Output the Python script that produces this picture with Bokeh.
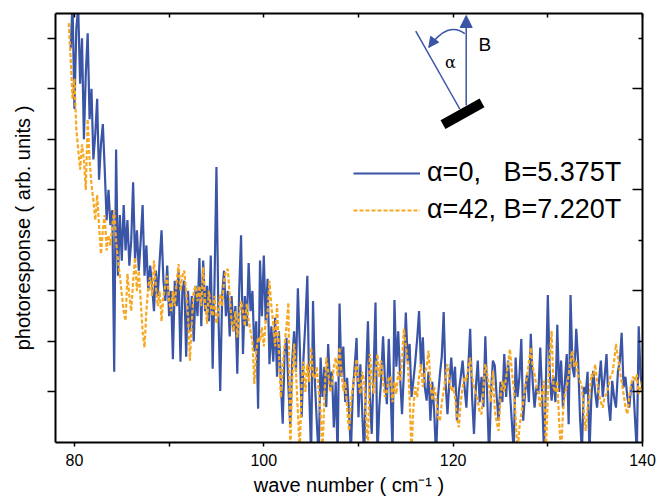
import numpy as np
from bokeh.plotting import figure
from bokeh.models import (LinearAxis, FixedTicker, Range1d, Legend, LegendItem,
                          Arrow, NormalHead)
from bokeh.core.properties import value
from bokeh.embed import file_html
from bokeh.resources import INLINE

NAN = float("nan")

# measurement grid (cm^-1)
WAVENUMBER = np.round(np.arange(79.4, 140.0001, 0.2), 1)

# alpha = 0, B = 5.375 T
RESP_A0 = [NAN,
    7.8, 8.7, 6.6, 8.2, 8.6, 7.1, 8.0, 6.0, 7.3, 8.1,
    6.4, 7.0, 5.6, 6.1, 6.8, 5.2, 5.9, 6.3, 5.4, 4.4,
    5.0, 4.3, 4.6, 1.4, 5.8, 3.3, 4.5, 3.6, 4.7, 3.8,
    4.4, 3.5, 4.0, 5.15, 3.6, 4.2, 3.4, 4.0, 4.7, 3.3,
    3.9, 3.0, 3.5, 3.1, 2.6, 3.4, 2.9, 3.6, 4.2, 3.2,
    2.8, 3.5, 2.5, 3.0, 1.65, 3.2, 2.7, 3.4, 1.6, 3.0,
    3.2, 1.7, 3.0, 2.2, 2.9, 2.0, 3.1, 2.5, 3.65, 2.3,
    3.6, 2.6, 3.1, 2.4, 3.7, 1.46, 3.2, 5.45, 2.6, 1.02,
    2.9, 3.4, 2.5, 3.0, 2.1, 2.9, 2.2, 2.7, 1.36, 3.0,
    4.1, 1.75, 2.9, 2.3, 3.55, 2.6, 3.0, 1.8, 2.4, 0.67,
    3.6, 2.5, 3.7, 2.4, 3.24, 1.55, 2.3, 1.6, 2.47, 1.3,
    2.2, 1.2, 0.37, 1.8, 2.07, 1.1, 0.3, 1.6, 2.2, 1.4,
    3.05, 1.9, 0.5, 1.7, 2.4, 3.3, 1.0, -0.3, 2.8, 1.2,
    0.4, -0.3, 1.68, 0.9, 1.5, 0.7, 1.95, 1.1, 1.4, 0.3,
    1.2, -0.3, 2.75, 1.3, 1.9, 0.8, 1.28, 0.6, -0.2, 1.0,
    1.5, 2.07, 0.5, 1.55, 0.6, -0.3, 1.3, 2.4, 0.9, 0.17,
    1.4, 2.77, -0.3, 0.7, 1.28, 2.1, 1.2, 0.76, 2.05, 1.0,
    -0.2, 2.82, 1.5, 2.2, 1.3, 0.56, 1.4, 2.57, 1.6, 1.95,
    0.9, 1.22, 1.6, 2.05, 2.6, 1.5, 2.08, 1.1, 0.83, 1.4,
    0.43, 1.2, 0.6, -0.3, 0.9, 1.35, 1.7, 2.58, 1.2, 0.56,
    1.2, 1.68, 1.09, 1.5, 0.43, 1.0, 1.3, 1.62, 1.1, 0.69,
    1.5, 2.25, 0.9, 0.17, 1.1, 1.62, 0.8, 1.3, 0.7, 2.1,
    0.9, -0.3, 1.0, 1.62, 1.52, 0.9, 0.43, 1.2, 0.8, 1.75,
    0.9, 1.62, 1.0, 0.4, -0.2, 1.68, 0.9, 1.3, 2.05, 0.43,
    1.0, 1.35, 0.8, 2.15, 1.2, 0.69, 1.1, 0.96, 1.88, 0.9,
    -0.2, 1.2, 2.92, 1.4, 0.83, 1.3, 0.8, 2.33, 1.0, 1.62,
    0.69, 1.2, 1.75, 0.36, 2.92, 1.5, 1.29, 2.25, 1.62, 0.5,
    -0.2, 1.1, 0.96, 1.4, -0.2, 0.9, 1.42, 1.0, 0.69, 1.2,
    1.62, 0.9, 1.3, 1.75, 0.8, 0.43, 1.22, 0.9, 0.69, 1.4,
    1.6, 2.17, 1.09, 1.3, 0.9, 0.69, 1.1, 1.22, 0.5, -0.2,
    2.3, 1.3, 1.08]

# alpha = 42, B = 7.220 T
RESP_A42 = [8.3,
    7.6, 6.8, 7.2, 6.2, 5.8, 5.4, 5.9, 5.6, 5.0, 6.4,
    5.6, 5.1, 4.8, 4.4, 4.9, 4.3, 3.73, 4.2, 4.5, 3.8,
    4.1, 3.9, 4.3, 4.59, 4.0, 3.6, 3.3, 2.94, 2.6, 2.41,
    3.34, 2.9, 2.6, 3.2, 3.66, 3.0, 3.4, 2.81, 2.2, 1.88,
    2.6, 3.1, 3.27, 2.9, 3.6, 3.1, 2.7, 3.0, 2.4, 2.9,
    3.1, 3.3, 2.8, 2.6, 3.0, 2.7, 3.2, 3.53, 3.0, 3.3,
    3.4, 3.0, 2.5, 1.62, 2.4, 3.0, 3.1, 2.8, 3.1, 2.7,
    3.47, 2.8, 2.35, 3.0, 2.7, 2.5, 2.9, 2.35, 2.6, 2.94,
    2.7, 3.2, 3.4, 3.43, 2.9, 2.4, 2.2, 2.6, 2.08, 2.5,
    2.8, 2.6, 2.3, 2.75, 2.4, 2.2, 2.0, 1.16, 1.8, 2.08,
    2.0, 2.28, 1.9, 2.4, 2.54, 3.2, 2.7, 2.35, 1.9, 2.74,
    1.8, 0.89, 1.5, 1.96, 2.3, 2.77, -0.2, 1.2, 1.96, 1.4,
    0.6, -0.2, 1.16, 1.6, 1.0, 1.55, 1.2, 1.88, 1.3, 1.28,
    1.5, 1.02, 0.6, -0.2, 0.9, 1.68, 1.4, 1.0, 1.16, 1.5,
    1.68, 1.3, 1.88, 1.4, 1.02, 1.2, 0.69, 0.23, 0.8, 1.09,
    1.3, 1.65, 1.2, 0.96, 1.4, 1.22, 0.5, -0.2, 1.75, 1.3,
    0.96, 1.4, 1.75, 1.3, 1.62, 1.22, 0.9, 1.02, 1.3, 1.29,
    0.8, 1.2, 0.96, 1.4, 1.22, 1.6, 2.25, 1.9, 1.62, 0.9,
    -0.2, 0.69, 1.1, 0.9, 1.3, 1.55, 1.1, 1.35, 1.5, 1.82,
    1.2, 0.83, 1.1, 0.9, 0.5, 0.43, 0.8, 1.02, 1.3, 1.55,
    1.2, 1.02, 1.09, 0.9, 0.5, 0.3, 0.8, 1.09, 1.3, 1.22,
    1.5, 1.68, 1.3, 1.09, 0.96, 0.83, 0.6, 0.56, 1.1, 1.55,
    1.35, 1.1, 0.8, 1.42, 0.63, 0.4, 0.23, 0.9, 1.22, 1.0,
    1.3, 1.55, 1.85, 1.4, 1.09, 0.5, -0.2, 0.3, 0.56, 0.8,
    1.09, 1.3, 1.6, 1.88, 1.5, 1.35, 1.1, 0.96, 0.69, 1.0,
    1.22, -0.2, 0.9, 1.7, 2.21, 1.09, 1.0, 1.22, 0.4, -0.2,
    0.6, 0.96, 1.1, 1.35, 1.6, 1.82, 1.5, 1.62, 1.3, 1.22,
    1.1, 0.6, 0.23, 0.69, 0.9, 1.35, 1.3, 1.55, 1.2, 0.96,
    0.8, 0.69, 0.9, 0.96, 1.1, 1.3, 1.35, 1.6, 1.95, 1.7,
    1.42, 1.2, 0.96, 0.7, 0.56, 0.9, 1.15, 1.3, 1.22, 1.35,
    0.96, 1.1, 1.22]

assert len(WAVENUMBER) == len(RESP_A0) == len(RESP_A42)

X_TICKS = [80, 100, 120, 140]
X_MINOR_TICKS = [90, 110, 130]
Y_TICKS = [1, 2, 3, 4, 5, 6, 7, 8]
Y_MAJOR_RIGHT = [1, 3, 5, 7]
Y_MINOR_RIGHT = [2, 4, 6, 8]
LEGEND_LABELS = ["\u03b1=0,\u00a0\u00a0 B=5.375T", "\u03b1=42, B=7.220T"]
X_LABEL = "wave number ( cm\u207b\u00b9 )"
Y_LABEL = "photoresponse ( arb. units )"

# inset sketch (data coordinates)
FIELD_ARROW = (121.38, 6.67, 121.38, 8.45)
SAMPLE_NORMAL = (120.70, 6.60, 116.05, 8.14)
ANGLE_CURVE = (121.23, 8.09, 117.43, 7.82, 119.48, 8.35)  # x0,y0,x1,y1,cx,cy
SAMPLE_BAR = ([118.93, 123.05], [6.29, 6.72])
ALPHA_TXT = (119.72, 7.52)
B_TXT = (123.35, 7.87)

BLUE = "#3a54a6"
ORANGE = "#f7a823"
FONT = "Liberation Sans"

p = figure(width=657, height=500, output_backend="svg", toolbar_location=None,
           x_range=Range1d(78, 140), y_range=Range1d(0, 8.49),
           min_border_left=55, min_border_right=15, min_border_top=13,
           min_border_bottom=58, background_fill_color="white",
           border_fill_color="white", outline_line_color=None)
p.grid.visible = False

r_a0 = p.line(WAVENUMBER, RESP_A0, line_color=BLUE, line_width=2.2)
r_a42 = p.line(WAVENUMBER, RESP_A42, line_color=ORANGE, line_width=2.2,
               line_dash="4 2")

# axes
xb = p.xaxis[0]
xb.ticker = FixedTicker(ticks=X_TICKS, minor_ticks=X_MINOR_TICKS)
xb.axis_label = X_LABEL
yl = p.yaxis[0]
yl.ticker = FixedTicker(ticks=Y_TICKS, minor_ticks=[])
yl.axis_label = Y_LABEL

xt = LinearAxis(ticker=FixedTicker(ticks=X_TICKS + X_MINOR_TICKS, minor_ticks=[]))
yr = LinearAxis(ticker=FixedTicker(ticks=Y_MAJOR_RIGHT, minor_ticks=Y_MINOR_RIGHT))
p.add_layout(xt, "above")
p.add_layout(yr, "right")

for ax in (xb, yl, xt, yr):
    ax.axis_line_color = "black"
    ax.axis_line_width = 2
    ax.major_tick_line_color = "black"
    ax.minor_tick_line_color = "black"
    ax.major_tick_line_width = 1.5
    ax.minor_tick_line_width = 1.5
    ax.major_label_text_font = FONT
    ax.major_label_text_color = "black"
    ax.axis_label_text_font = FONT
    ax.axis_label_text_font_style = "normal"
    ax.axis_label_text_color = "black"
    ax.axis_label_text_font_size = "20px"

# axes without tick labels
for ax in (yl, xt, yr):
    ax.major_label_text_color = None
    ax.major_label_text_font_size = "0px"
    ax.major_label_standoff = 0

xb.major_tick_in, xb.major_tick_out = 0, 4
xb.minor_tick_in, xb.minor_tick_out = 0, 4
xb.major_label_text_font_size = "16px"
xb.major_label_standoff = 7
xb.axis_label_standoff = 5
yl.major_tick_in, yl.major_tick_out = 0, 8
yl.axis_label_standoff = 14
xt.major_tick_in, xt.major_tick_out = 4, 0
xt.minor_tick_in, xt.minor_tick_out = 0, 0
yr.major_tick_in, yr.major_tick_out = 10, 0
yr.minor_tick_in, yr.minor_tick_out = 4, 0

# inset sketch
p.line([SAMPLE_NORMAL[0], SAMPLE_NORMAL[2]], [SAMPLE_NORMAL[1], SAMPLE_NORMAL[3]],
       line_color=BLUE, line_width=1.5)
p.add_layout(Arrow(end=NormalHead(size=12, fill_color=BLUE, line_color=BLUE),
                   x_start=FIELD_ARROW[0], y_start=FIELD_ARROW[1],
                   x_end=FIELD_ARROW[2], y_end=FIELD_ARROW[3],
                   line_color=BLUE, line_width=1.5))
x0, y0, x1, y1, cx, cy = ANGLE_CURVE
p.quadratic(x0=[x0], y0=[y0], x1=[x1], y1=[y1], cx=[cx], cy=[cy],
            line_color=BLUE, line_width=1.5)
p.add_layout(Arrow(end=NormalHead(size=10, fill_color=BLUE, line_color=BLUE),
                   x_start=x1 - 0.02 * (x1 - cx), y_start=y1 - 0.02 * (y1 - cy),
                   x_end=x1, y_end=y1, line_color=BLUE, line_width=1))
p.line(SAMPLE_BAR[0], SAMPLE_BAR[1], line_color="black", line_width=10,
       line_cap="butt")
p.text(x=[ALPHA_TXT[0]], y=[ALPHA_TXT[1]], text=["\u03b1"],
       text_font=value("DejaVu Serif"), text_font_size="16px",
       text_align="center", text_baseline="middle", text_color="black")
p.text(x=[B_TXT[0]], y=[B_TXT[1]], text=["B"],
       text_font=value(FONT), text_font_size="19px",
       text_align="center", text_baseline="middle", text_color="black")

legend = Legend(items=[LegendItem(label=LEGEND_LABELS[0], renderers=[r_a0]),
                       LegendItem(label=LEGEND_LABELS[1], renderers=[r_a42])],
                location=(298, 217), glyph_width=67, glyph_height=30,
                label_height=30, spacing=6, label_standoff=7, padding=0,
                margin=0, border_line_color=None, background_fill_alpha=0,
                label_text_font=FONT, label_text_font_size="27px",
                label_text_color="black")
p.add_layout(legend)

open("out.html", "w").write(file_html(p, INLINE))
